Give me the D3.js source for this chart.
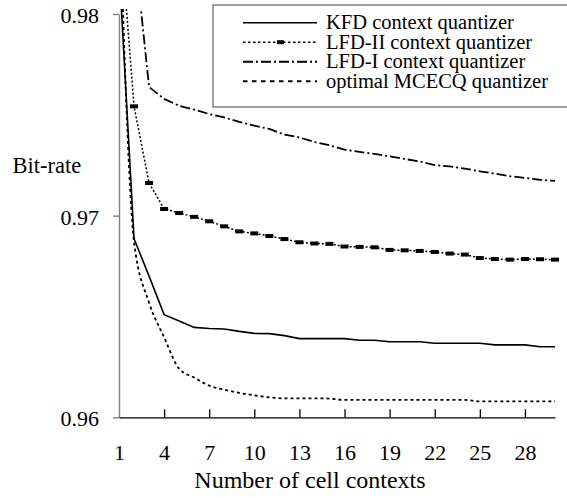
<!DOCTYPE html>
<html>
<head>
<meta charset="utf-8">
<script src="https://cdn.jsdelivr.net/npm/d3@7"></script>
<style>
  body { margin: 0; background: #fff; }
  svg { display: block; }
  text { font-family: "Liberation Serif", "Times New Roman", serif; fill: #000; }
</style>
</head>
<body>
<div class="chart"></div>
<script>
let w = 567;
let h = 498;

// number of cell contexts (category axis)
const contexts = [1,2,3,4,5,6,7,8,9,10,11,12,13,14,15,16,17,18,19,20,21,22,23,24,25,26,27,28,29,30];
const xTicks = [1,4,7,10,13,16,19,22,25,28];
const yTicks = [0.96, 0.97, 0.98];

// bit-rate
const kfd   = [0.9824,0.96886,0.9670,0.96509,0.96478,0.96446,0.9644,0.96438,0.96426,0.96416,
               0.96415,0.96405,0.9639,0.9639,0.9639,0.9639,0.96382,0.96382,0.96375,0.96375,
               0.96375,0.96367,0.96367,0.96367,0.96367,0.96359,0.96359,0.96359,0.9635,0.9635];
const lfd2  = [0.9850,0.97542,0.97162,0.97033,0.97013,0.96994,0.96972,0.96947,0.96922,0.96912,
               0.96899,0.96884,0.96868,0.96862,0.9686,0.96847,0.96845,0.96843,0.9683,0.96828,
               0.96825,0.9682,0.96812,0.96807,0.9679,0.96785,0.96782,0.96785,0.96784,0.96782];
const lfd1  = [0.9860,0.98349,0.97638,0.97579,0.97545,0.97526,0.97504,0.97487,0.97465,0.97446,
               0.9743,0.97402,0.97388,0.97365,0.97349,0.97327,0.97316,0.97306,0.97294,0.97281,
               0.97269,0.97251,0.97244,0.97233,0.9722,0.97208,0.97196,0.97187,0.97178,0.97172];
const mcecq = [0.9862,0.9687,0.96569,0.96397,0.96241,0.96197,0.96157,0.96137,0.96121,0.96109,
               0.96099,0.96094,0.96094,0.96094,0.96093,0.96086,0.96086,0.96086,0.96086,0.96086,
               0.96086,0.96086,0.96086,0.96086,0.96079,0.96079,0.96079,0.96079,0.96079,0.96079];

const seriesNames = ["KFD context quantizer", "LFD-II context quantizer", "LFD-I context quantizer", "optimal MCECQ quantizer"];

const x = d3.scaleLinear().domain([1, 30]).range([119, 555]);
const y = d3.scaleLinear().domain([0.96, 0.98]).range([417.3, 14]);

let svg = d3.select('.chart')
	.append('svg')
	.attr('width', w)
	.attr('height', h);

svg.append('defs').append('clipPath').attr('id', 'plot')
	.append('rect').attr('x', 119).attr('y', 9).attr('width', 445).attr('height', 415);

// y axis (grey, ticks outside)
let yAxis = svg.append('g')
	.attr('transform', 'translate(119,0)')
	.call(d3.axisLeft(y).tickValues(yTicks).tickSizeInner(6).tickSizeOuter(0).tickPadding(14)
		.tickFormat(d3.format('.2f')));
yAxis.selectAll('path, line').attr('stroke', '#808080').attr('stroke-width', 1.4);
yAxis.selectAll('text').attr('font-size', '22px').attr('font-family', null).attr('dy', '0.38em');

// x axis (ticks pointing up into the plot)
let xAxis = svg.append('g')
	.attr('transform', 'translate(0,417.3)')
	.call(d3.axisBottom(x).tickValues(xTicks).tickSizeInner(-8).tickSizeOuter(0).tickPadding(27)
		.tickFormat(d3.format('d')));
xAxis.selectAll('path, line').attr('stroke', '#000').attr('stroke-width', 1.3);
xAxis.select('.tick line').attr('stroke', 'none'); // no tick on the corner
xAxis.selectAll('text').attr('font-size', '22px').attr('font-family', null);

svg.append('text').text('Bit-rate')
	.attr('x', 12.5).attr('y', 173)
	.attr('font-size', '22.5px');

svg.append('text').text('Number of cell contexts')
	.attr('x', 310).attr('y', 488)
	.attr('text-anchor', 'middle')
	.attr('font-size', '24px');

const line = d3.line()
	.x(function(d, i){ return x(contexts[i]); })
	.y(function(d){ return y(d); })
	.curve(d3.curveLinear);

const smooth = d3.line()
	.x(function(d, i){ return x(contexts[i]); })
	.y(function(d){ return y(d); })
	.curve(d3.curveMonotoneX);

let plot = svg.append('g').attr('clip-path', 'url(#plot)');

plot.append('path').attr('d', smooth(mcecq))
	.attr('fill', 'none').attr('stroke', '#000').attr('stroke-width', 1.8)
	.attr('stroke-dasharray', '3,3');

plot.append('path').attr('d', line(lfd2))
	.attr('fill', 'none').attr('stroke', '#000').attr('stroke-width', 1.5)
	.attr('stroke-dasharray', '2,2');

plot.selectAll('rect.mk')
	.data(lfd2)
	.enter()
	.append('rect')
	.attr('class', 'mk')
	.attr('x', function(d, i){ return x(contexts[i]) - 4; })
	.attr('y', function(d){ return y(d) - 2; })
	.attr('width', 8).attr('height', 4)
	.attr('fill', '#000');

plot.append('path').attr('d', line(lfd1))
	.attr('fill', 'none').attr('stroke', '#000').attr('stroke-width', 1.8)
	.attr('stroke-dasharray', '10,3,2,3');

plot.append('path').attr('d', line(kfd))
	.attr('fill', 'none').attr('stroke', '#000').attr('stroke-width', 1.6);

// legend
let legend = svg.append('g');
legend.append('rect')
	.attr('x', 213).attr('y', 5).attr('width', 400).attr('height', 102)
	.attr('fill', '#fff').attr('stroke', '#808080').attr('stroke-width', 1.5);

const dashes = [null, '2.5,2.5', '10,3,2,3', '4.5,4.5'];
const widths = [1.6, 1.5, 2, 2];

let items = legend.selectAll('g.item')
	.data(seriesNames)
	.enter()
	.append('g')
	.attr('class', 'item')
	.attr('transform', function(d, i){ return 'translate(0,' + (22.7 + i * 19.5) + ')'; });

items.append('line')
	.attr('x1', 243).attr('x2', 317).attr('y1', 0).attr('y2', 0)
	.attr('stroke', '#000')
	.attr('stroke-width', function(d, i){ return widths[i]; })
	.attr('stroke-dasharray', function(d, i){ return dashes[i]; });

items.filter(function(d, i){ return i === 1; })
	.append('rect')
	.attr('x', 277).attr('y', -2).attr('width', 7).attr('height', 4)
	.attr('fill', '#000');

items.append('text')
	.text(function(d){ return d; })
	.attr('x', 326).attr('y', 6.5)
	.attr('font-size', '20.5px');
</script>
</body>
</html>
